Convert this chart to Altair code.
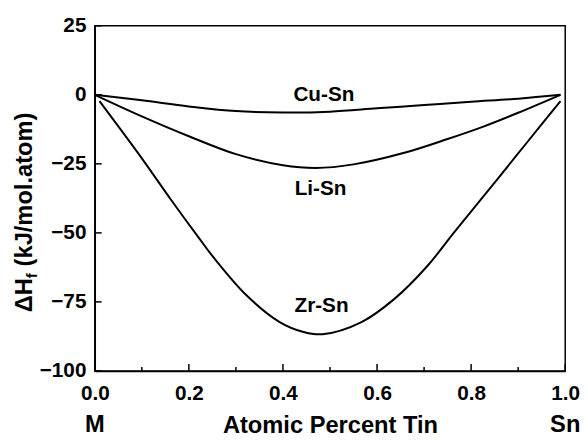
import altair as alt
import pandas as pd

# Curve data (x = atomic fraction of Sn, y = ΔHf in kJ/mol.atom)
cu_x = [0.0, 0.1, 0.2, 0.3, 0.4, 0.5, 0.6, 0.7, 0.8, 0.9, 0.99]
cu_y = [0.0, -2.0, -4.2, -5.9, -6.4, -6.1, -4.9, -3.7, -2.5, -1.4, 0.0]

li_x = [0.0, 0.1, 0.2, 0.3, 0.4, 0.47, 0.55, 0.658, 0.75, 0.826, 0.9, 0.99]
li_y = [0.0, -7.8, -15.0, -21.5, -25.5, -26.5, -25.2, -21.0, -16.0, -11.5, -6.5, 0.0]

zr_x = [0.01, 0.1, 0.162, 0.222, 0.253, 0.323, 0.393, 0.442, 0.484, 0.567, 0.637, 0.707, 0.763, 0.85, 0.92, 0.99]
zr_y = [-2.3, -23.0, -38.0, -52.0, -59.0, -72.7, -82.3, -85.8, -86.7, -82.3, -73.9, -62.0, -50.0, -31.8, -17.0, -2.3]

label_text = ["Cu-Sn", "Li-Sn", "Zr-Sn"]
label_x = [0.487, 0.48, 0.482]
label_y = [0.0, -34.0, -76.5]

end_text = ["M", "Sn"]
end_x = [0.0, 1.0]

x_major = [0.0, 0.2, 0.4, 0.6, 0.8, 1.0]
x_minor = [0.1, 0.3, 0.5, 0.7, 0.9]
y_major = [-100, -75, -50, -25, 0, 25]

y_title_main = "ΔH"
y_title_sub = "f"
y_title_rest = "(kJ/mol.atom)"

W, H = 477, 350
FONT = "Liberation Sans"

rows = []
for name, xs_, ys_ in [("Cu-Sn", cu_x, cu_y), ("Li-Sn", li_x, li_y), ("Zr-Sn", zr_x, zr_y)]:
    for a, b in zip(xs_, ys_):
        rows.append({"series": name, "x": a, "y": b})
curves = pd.DataFrame(rows)
labels = pd.DataFrame({"t": label_text, "x": label_x, "y": label_y})
ends = pd.DataFrame({"t": end_text, "x": end_x})
xmaj = pd.DataFrame({"x": x_major})
xmin = pd.DataFrame({"x": x_minor})
ymaj = pd.DataFrame({"y": y_major})

xs = alt.Scale(domain=[0, 1], nice=False, zero=False)
ys = alt.Scale(domain=[-100, 25], nice=False, zero=False)

x_axis = alt.Axis(
    values=x_major, format=".1f", title="Atomic Percent Tin",
    labelFont=FONT, labelFontWeight="bold", labelFontSize=21, labelColor="black",
    labelPadding=12, labelFlush=False, ticks=False, grid=False,
    domainColor="black", domainWidth=1.5,
    titleFont=FONT, titleFontWeight="bold", titleFontSize=24, titleColor="black",
    titleY=55, titleBaseline="middle")
y_axis = alt.Axis(
    values=y_major, format="d", title=None,
    labelFont=FONT, labelFontWeight="bold", labelFontSize=21, labelColor="black",
    labelPadding=9, labelFlush=False, ticks=False, grid=False,
    domainColor="black", domainWidth=1.5)

X = lambda: alt.X("x:Q", scale=xs, axis=x_axis)
Y = lambda: alt.Y("y:Q", scale=ys, axis=y_axis)

lines = alt.Chart(curves).mark_line(color="black", strokeWidth=2, interpolate="catmull-rom").encode(
    x=X(), y=Y(), detail="series:N",
)

texts = alt.Chart(labels).mark_text(font=FONT, fontWeight="bold", fontSize=21, color="black").encode(
    x=X(), y=Y(), text="t:N",
)

end_labels = alt.Chart(ends).mark_text(font=FONT, fontWeight="bold", fontSize=24, color="black",
                                       baseline="middle").encode(
    x=X(), y=alt.value(H + 55), text="t:N",
)

xmaj_ticks = alt.Chart(xmaj).mark_rule(color="black", strokeWidth=1.5).encode(
    x=X(), y=alt.value(H), y2=alt.value(H - 7))
xmin_ticks = alt.Chart(xmin).mark_rule(color="black", strokeWidth=1.5).encode(
    x=X(), y=alt.value(H), y2=alt.value(H - 4))
ymaj_ticks = alt.Chart(ymaj).mark_rule(color="black", strokeWidth=1.5).encode(
    y=Y(), x=alt.value(0), x2=alt.value(7))

# Y-axis title built from pieces so that "f" can be a subscript
P = 256
t_main = alt.Chart(pd.DataFrame({"t": [y_title_main]})).mark_text(
    font=FONT, fontWeight="bold", fontSize=24, color="black", angle=270,
    align="right", baseline="middle").encode(
    text="t:N", x=alt.value(-71), y=alt.value(P))
t_sub = alt.Chart(pd.DataFrame({"t": [y_title_sub]})).mark_text(
    font=FONT, fontWeight="bold", fontSize=15, color="black", angle=270,
    align="left", baseline="middle").encode(
    text="t:N", x=alt.value(-64), y=alt.value(P))
t_rest = alt.Chart(pd.DataFrame({"t": [y_title_rest]})).mark_text(
    font=FONT, fontWeight="bold", fontSize=24, color="black", angle=270,
    align="left", baseline="middle").encode(
    text="t:N", x=alt.value(-71), y=alt.value(P - 12))

chart = alt.layer(lines, texts, end_labels, xmaj_ticks, xmin_ticks, ymaj_ticks,
                  t_main, t_sub, t_rest).properties(
    width=W, height=H,
    padding={"left": 88, "top": 15, "right": 15, "bottom": 67},
    autosize=alt.AutoSizeParams(type="none"),
    background="white",
).configure_view(stroke="black", strokeWidth=1.5)

chart.save("out.html", embed_options={"renderer": "svg", "actions": False})
